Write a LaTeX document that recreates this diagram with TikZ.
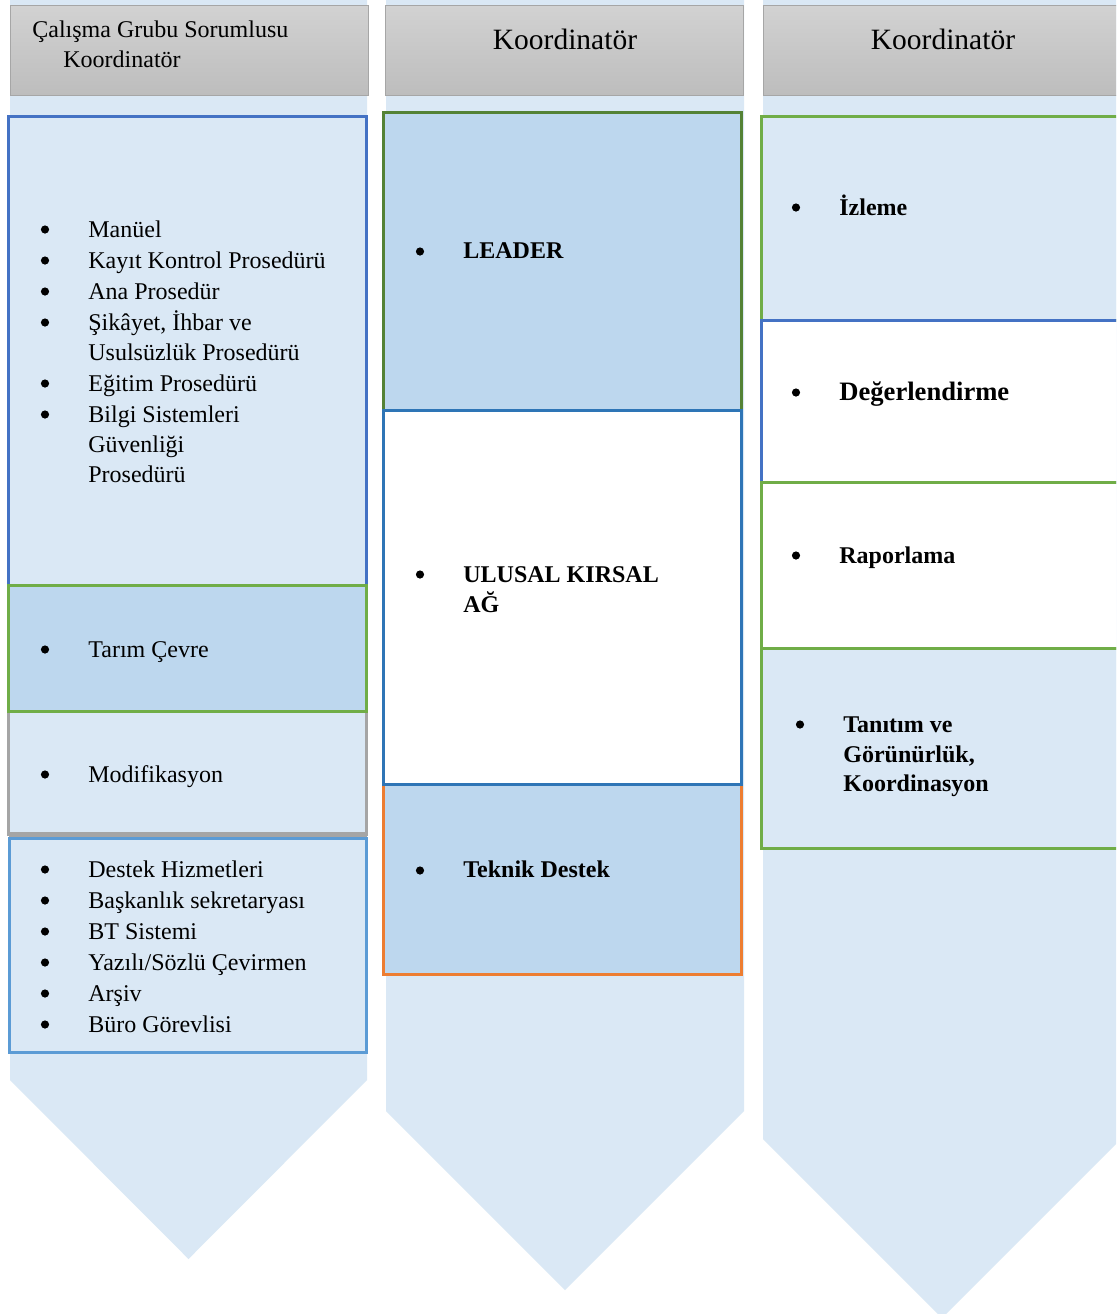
\documentclass[tikz,border=0pt]{standalone}
\usepackage{fontspec}
\setmainfont{Liberation Serif}
\definecolor{arrowfill}{HTML}{DAE8F5}
\definecolor{darkfill}{HTML}{BDD7EE}
\definecolor{hdrtop}{HTML}{D2D2D2}
\definecolor{hdrbot}{HTML}{BDBDBD}
\definecolor{hdrborder}{HTML}{A6A6A6}
\definecolor{bblue}{HTML}{4472C4}
\definecolor{bgreen}{HTML}{70AD47}
\definecolor{bdgreen}{HTML}{548235}
\definecolor{bgray}{HTML}{A5A5A5}
\definecolor{blight}{HTML}{5B9BD5}
\definecolor{bmid}{HTML}{2E75B6}
\definecolor{borange}{HTML}{ED7D31}
\tikzset{
  arrowshape/.style={fill=arrowfill, draw=none},
  hdr/.style={draw=hdrborder, line width=0.5pt, top color=hdrtop, bottom color=hdrbot},
  boxline/.style={line width=1.5pt},
  txt/.style={anchor=base west, inner sep=0pt, font=\fontsize{12}{14}\selectfont},
  btxt/.style={anchor=base west, inner sep=0pt, font=\bfseries\fontsize{12}{14}\selectfont},
  htxt/.style={anchor=base, inner sep=0pt, font=\fontsize{14.75}{17}\selectfont},
  dot/.style={circle, fill=black, inner sep=0pt, minimum size=4.1pt},
}
\begin{document}
\begin{tikzpicture}[x=0.5pt,y=-0.5pt]
\clip (0,0) rectangle (1116,1314);
\fill[white] (0,0) rectangle (1116,1314);
% arrows
\fill[arrowshape] (10,-5) -- (367,-5) -- (367,1080) -- (188.5,1259) -- (10,1080) -- cycle;
\fill[arrowshape] (386,-5) -- (744,-5) -- (744,1111) -- (565,1290) -- (386,1111) -- cycle;
\fill[arrowshape] (763,-5) -- (1121,-5) -- (1121,1139) -- (942,1318) -- (763,1139) -- cycle;
% headers
\draw[hdr] (10,5) rectangle (368,95);
\draw[hdr] (385,5) rectangle (743,95);
\draw[hdr] (763,5) rectangle (1125,95);
\node[txt] (h1a) at (32,37) {Çalışma Grubu Sorumlusu};
\node[txt] (h1b) at (63,67) {Koordinatör};
\node[htxt] (h2) at (565,49) {Koordinatör};
\node[htxt] (h3) at (943,49) {Koordinatör};
% column 1 boxes
\draw[boxline, draw=bblue, fill=arrowfill] (8.5,116.5) rectangle (366.5,585);
\draw[boxline, draw=bgray, fill=arrowfill] (8.5,711) rectangle (366.5,834);
\draw[line width=2.5pt, draw=bgray] (8.5,834.5) -- (366.5,834.5);
\draw[boxline, draw=bgreen, fill=darkfill] (8.5,585) rectangle (366.5,711);
\draw[boxline, draw=blight, fill=arrowfill] (9,838) rectangle (366,1052);
% column 2 boxes
\draw[boxline, draw=bdgreen, fill=darkfill] (383.5,112.5) rectangle (741,410);
\draw[boxline, draw=borange, fill=darkfill] (383.5,784) rectangle (741,974);
\draw[boxline, draw=bmid, fill=white] (383.5,410) rectangle (741,784);
% column 3 boxes
\draw[boxline, draw=bgreen, fill=arrowfill] (761,116.5) rectangle (1125,320);
\draw[boxline, draw=bblue, fill=white] (761,320) rectangle (1125,482);
\draw[boxline, draw=bgreen, fill=white] (761,482) rectangle (1125,648);
\draw[boxline, draw=bgreen, fill=arrowfill] (761,648) rectangle (1125,848);
% column 1 text
\node[dot] (d1) at (45,229.5) {};
\node[txt] (t1) at (88,237) {Manüel};
\node[dot] (d2) at (45,260.5) {};
\node[txt] (t2) at (88,268) {Kayıt Kontrol Prosedürü};
\node[dot] (d3) at (45,291.5) {};
\node[txt] (t3) at (88,299) {Ana Prosedür};
\node[dot] (d4) at (45,322.5) {};
\node[txt] (t4) at (88,330) {Şikâyet, İhbar ve};
\node[txt] (t4b) at (88,360) {Usulsüzlük Prosedürü};
\node[dot] (d5) at (45,383.5) {};
\node[txt] (t5) at (88,391) {Eğitim Prosedürü};
\node[dot] (d6) at (45,414.5) {};
\node[txt] (t6) at (88,422) {Bilgi Sistemleri};
\node[txt] (t6b) at (88,452) {Güvenliği};
\node[txt] (t6c) at (88,482) {Prosedürü};
\node[dot] (d7) at (45,649.5) {};
\node[txt] (t7) at (88,657) {Tarım Çevre};
\node[dot] (d8) at (45,774.5) {};
\node[txt] (t8) at (88,782) {Modifikasyon};
\node[dot] (d9) at (45,869.5) {};
\node[txt] (t9) at (88,877) {Destek Hizmetleri};
\node[dot] (d10) at (45,900.5) {};
\node[txt] (t10) at (88,908) {Başkanlık sekretaryası};
\node[dot] (d11) at (45,931.5) {};
\node[txt] (t11) at (88,939) {BT Sistemi};
\node[dot] (d12) at (45,962.5) {};
\node[txt] (t12) at (88,970) {Yazılı/Sözlü Çevirmen};
\node[dot] (d13) at (45,993.5) {};
\node[txt] (t13) at (88,1001) {Arşiv};
\node[dot] (d14) at (45,1024.5) {};
\node[txt] (t14) at (88,1032) {Büro Görevlisi};
% column 2 text
\node[dot] (e1) at (420,251.5) {};
\node[btxt] (u1) at (463,258) {LEADER};
\node[dot] (e2) at (420,574.5) {};
\node[btxt] (u2) at (463,582) {ULUSAL KIRSAL};
\node[btxt] (u2b) at (463,612) {AĞ};
\node[dot] (e3) at (420,870.5) {};
\node[btxt] (u3) at (463,877) {Teknik Destek};
% column 3 text
\node[dot] (f1) at (796,207.5) {};
\node[btxt] (v1) at (839,215) {İzleme};
\node[dot] (f2) at (796,392.5) {};
\node[btxt, font=\bfseries\fontsize{13.3}{15}\selectfont] (v2) at (839,400) {Değerlendirme};
\node[dot] (f3) at (796,555.5) {};
\node[btxt] (v3) at (839,563) {Raporlama};
\node[dot] (f4) at (800,724.5) {};
\node[btxt] (v4) at (843,732) {Tanıtım ve};
\node[btxt] (v4b) at (843,762) {Görünürlük,};
\node[btxt] (v4c) at (843,791) {Koordinasyon};
\end{tikzpicture}
\end{document}
